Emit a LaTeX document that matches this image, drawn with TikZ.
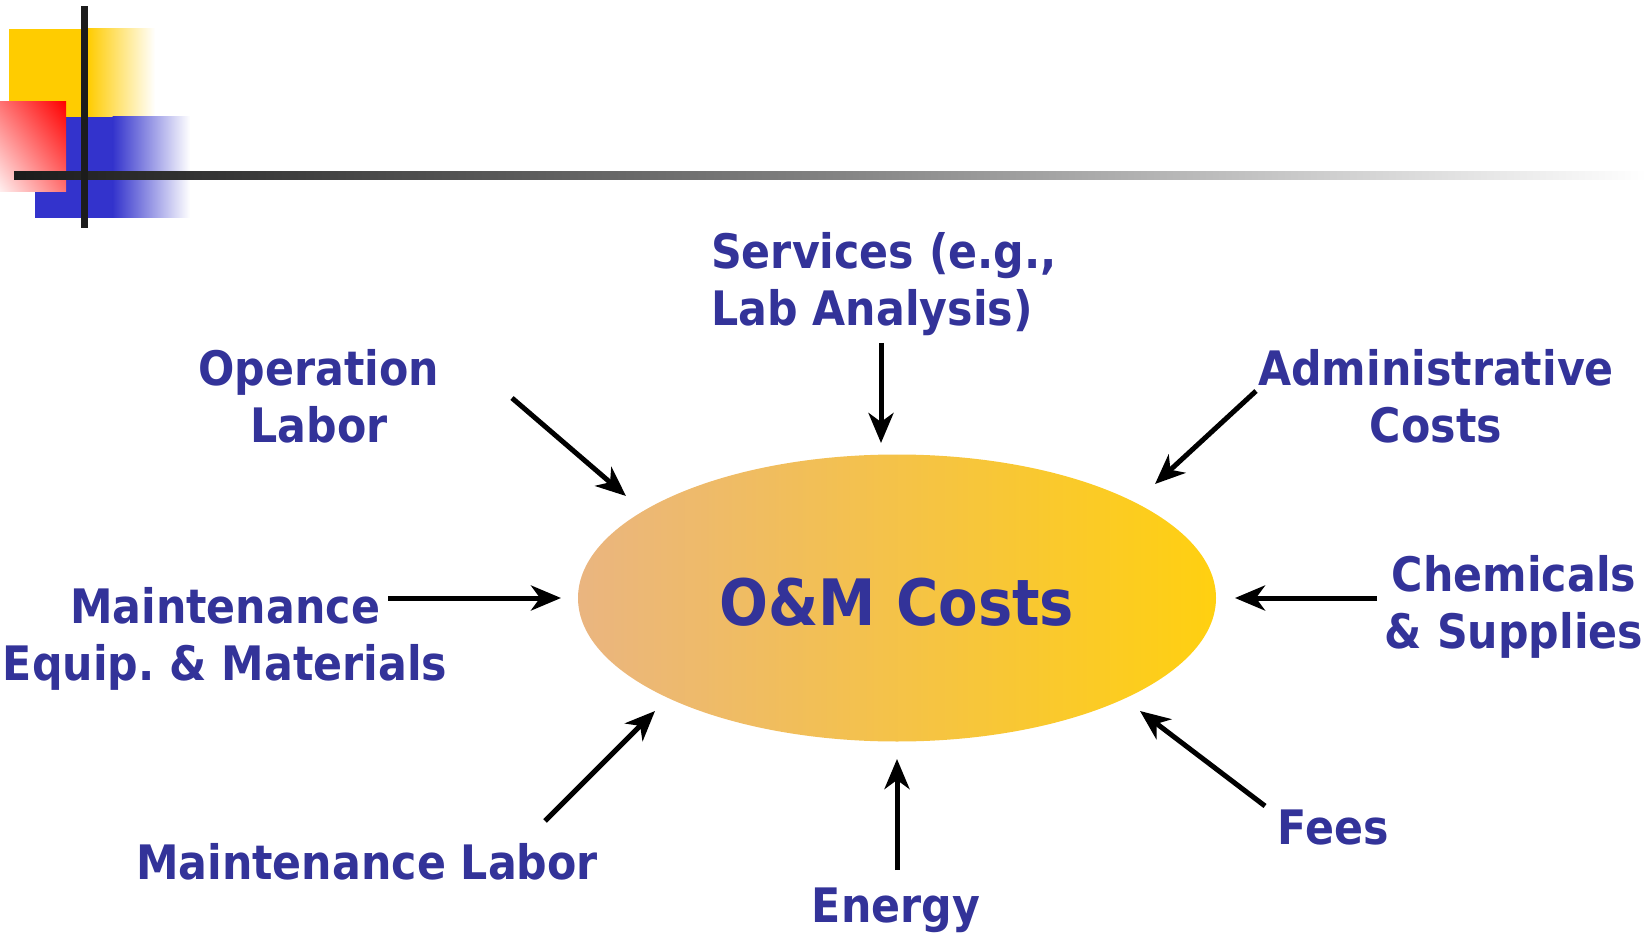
\documentclass[tikz,border=0pt]{standalone}
\usepackage{fontspec}
\usetikzlibrary{arrows.meta,shapes.geometric,shadings}
\newfontfamily\labfont[FakeStretch=0.9]{DejaVu Sans}
\frenchspacing
\definecolor{txtblue}{HTML}{333399}
\definecolor{decoyellow}{HTML}{FFCC00}
\definecolor{decoblue}{HTML}{3333CC}
\definecolor{decored}{HTML}{FF0000}
\definecolor{barblack}{HTML}{1C1C1C}
\definecolor{elltan}{HTML}{EAB580}
\definecolor{ellyellow}{HTML}{FFD010}
\tikzset{
  lab/.style={text=txtblue, font=\labfont\bfseries\fontsize{47.5}{57}\selectfont\frenchspacing, align=center, inner sep=0pt},
  feed/.style={line width=5pt, draw=black, -{Stealth[length=30pt,width=25pt,inset=9pt]}},
}
\begin{document}
\begin{tikzpicture}[x=1pt,y=-1pt]
\useasboundingbox (0,0) rectangle (1647,933);
% decoration top-left
\fill[decoyellow] (9,29) rectangle (88,118);
\shade[left color=decoyellow, right color=white] (87.5,29) rectangle (155,118);
\fill[decoblue] (35,117) rectangle (113,218);
\shade[left color=decoblue, right color=white] (112.5,117) rectangle (190,218);
\shade[upper right=decored, lower left=decored!6, upper left=decored!55, lower right=decored!55] (0,102) rectangle (66,192);
\shade[left color=barblack, right color=white, middle color=barblack!55] (14,172) rectangle (1647,180);
\fill[barblack] (81,6) rectangle (88,228);
% central ellipse
\node[ellipse, minimum width=638pt, minimum height=287pt, inner sep=0pt,
      left color=elltan, right color=ellyellow] (om) at (897,598) {};
\node[text=txtblue, font=\labfont\bfseries\fontsize{64}{70}\selectfont] (omt) at (897,602) {O\&M Costs};
% labels
\node[lab, align=left, anchor=west] (serv) at (711,284) {Services (e.g.,\\Lab Analysis)};
\node[lab] (oplab) at (319,396) {Operation\\Labor};
\node[lab] (admin) at (1436,396) {Administrative\\Costs};
\node[lab] (chem) at (1514,607) {Chemicals\\\& Supplies};
\node[lab] (mequip) at (225,639) {Maintenance\\Equip. \& Materials};
\node[lab] (mlab) at (367,862) {Maintenance Labor};
\node[lab] (energy) at (896,910) {Energy};
\node[lab] (fees) at (1333,828) {Fees};
% arrow ends
\coordinate (a1) at (512,398); \coordinate (b1) at (626,496);
\coordinate (a2) at (881,343); \coordinate (b2) at (881,443);
\coordinate (a3) at (1256,391); \coordinate (b3) at (1155,484);
\coordinate (a4) at (1377,598); \coordinate (b4) at (1235,598);
\coordinate (a5) at (388,598); \coordinate (b5) at (561,598);
\coordinate (a6) at (545,821); \coordinate (b6) at (655,711);
\coordinate (a7) at (897,870); \coordinate (b7) at (897,759);
\coordinate (a8) at (1265,806); \coordinate (b8) at (1140,711);
\foreach \i in {1,...,8} {\draw[feed] (a\i) -- (b\i);}
\end{tikzpicture}
\end{document}
